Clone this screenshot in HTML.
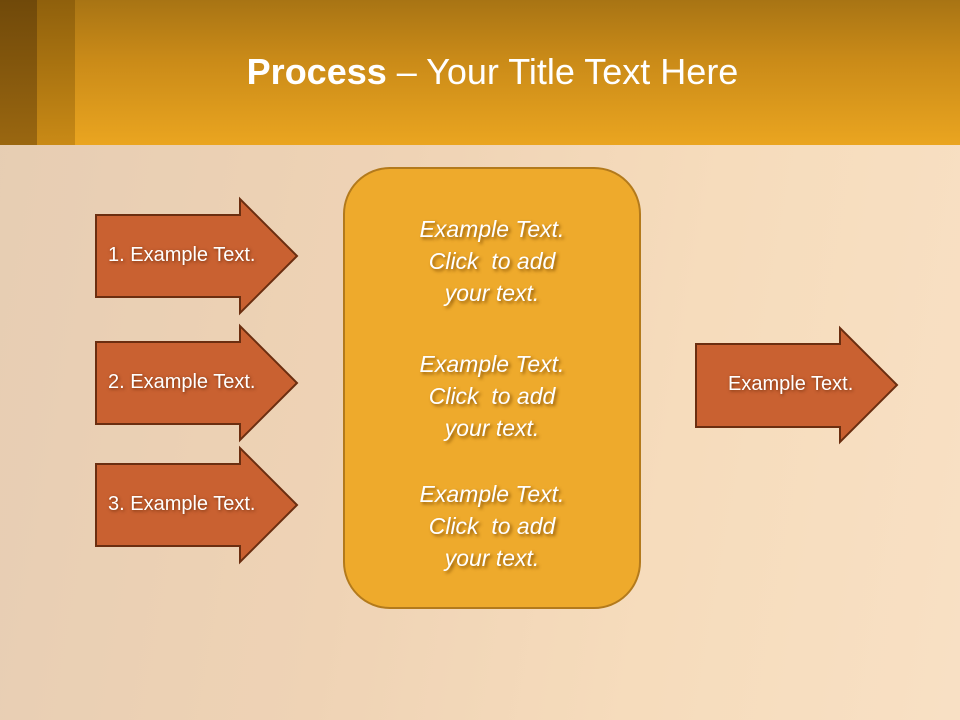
<!DOCTYPE html>
<html><head><style>
html,body{margin:0;padding:0;}
body{width:960px;height:720px;position:relative;overflow:hidden;font-family:"Liberation Sans",Calibri,sans-serif;
background:linear-gradient(100deg,#e6cdb3 0%,#efd3b5 40%,#f6dcbc 70%,#f8e0c4 100%);}
.hdr{position:absolute;left:0;top:0;width:960px;height:145px;background:linear-gradient(180deg,#a87414 0%,#c98a18 40%,#eaa520 100%);}
.b1{position:absolute;left:0;top:0;width:37px;height:145px;background:linear-gradient(180deg,#70490a,#9a6710);}
.b2{position:absolute;left:37px;top:0;width:38px;height:145px;background:linear-gradient(180deg,#8f600c,#c98a16);}
.title{position:absolute;left:0;width:985px;top:51px;text-align:center;color:#fff;font-size:36px;}
svg{position:absolute;left:0;top:0;}
.t{position:absolute;color:#fff;font-size:20px;text-shadow:1px 1px 3px rgba(80,30,0,.7);white-space:nowrap;}
.c{position:absolute;left:344px;width:296px;text-align:center;color:#fff;font-style:italic;font-size:23px;line-height:32px;text-shadow:2px 2px 3px rgba(120,70,0,.8);}
</style></head><body>
<div class="hdr"></div><div class="b1"></div><div class="b2"></div>
<div class="title"><b>Process</b> – Your Title Text Here</div>
<svg width="960" height="720">
<g fill="#c96131" stroke="#6b2e10" stroke-width="2">
<polygon points="96,215 240,215 240,199 297,256 240,313 240,297 96,297"/>
<polygon points="96,342 240,342 240,326 297,383 240,440 240,424 96,424"/>
<polygon points="96,464 240,464 240,448 297,505 240,562 240,546 96,546"/>
<polygon points="696,344 840,344 840,328 897,385 840,442 840,427 696,427"/>
</g>
<rect x="344" y="168" width="296" height="440" rx="46" fill="#eeaa2c" stroke="#b37a1c" stroke-width="2"/>
</svg>
<div class="t" style="left:108px;top:244px">1. Example Text.</div>
<div class="t" style="left:108px;top:371px">2. Example Text.</div>
<div class="t" style="left:108px;top:493px">3. Example Text.</div>
<div class="t" style="left:728px;top:373px">Example Text.</div>
<div class="c" style="top:213px">Example Text.<br>Click&nbsp; to add<br>your text.</div>
<div class="c" style="top:348px">Example Text.<br>Click&nbsp; to add<br>your text.</div>
<div class="c" style="top:478px">Example Text.<br>Click&nbsp; to add<br>your text.</div>
</body></html>
